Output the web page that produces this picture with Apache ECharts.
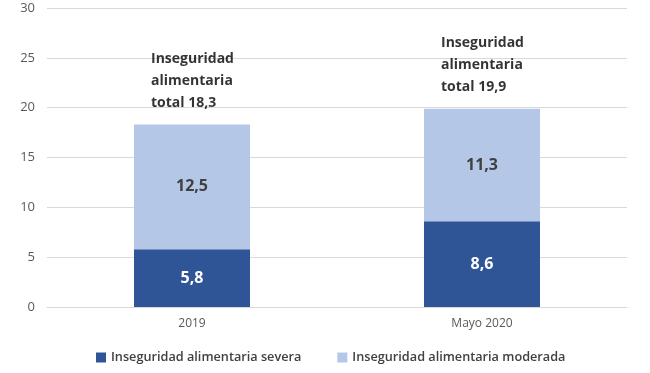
<!DOCTYPE html>
<html><head><meta charset="utf-8">
<script src="https://cdn.jsdelivr.net/npm/echarts@6/dist/echarts.min.js"></script>
<style>html,body{margin:0;padding:0;background:#fff}#c{width:650px;height:373px}</style>
</head><body><div id="c"></div>
<script>
const categories = ['2019', 'Mayo 2020'];
const severa = [5.8, 8.6];
const moderada = [12.5, 11.3];
const totals = [18.3, 19.9];
const seriesNames = ['Inseguridad alimentaria severa', 'Inseguridad alimentaria moderada'];
const yTicks = { min: 0, max: 30, interval: 5 };

const fmt = v => v.toFixed(1).replace('.', ',');
const chart = echarts.init(document.getElementById('c'), null, { renderer: 'canvas' });
const font = '"Open Sans", "Noto Sans", sans-serif';
chart.setOption({
  animation: false,
  textStyle: { fontFamily: font },
  grid: { left: 47, right: 23, top: 8, bottom: 66 },
  legend: {
    data: seriesNames,
    bottom: 4, left: 91, itemWidth: 10, itemHeight: 10, itemGap: 36,
    icon: 'rect',
    textStyle: { fontSize: 12.7, fontWeight: 600, color: '#404040', fontFamily: font }
  },
  xAxis: {
    type: 'category', data: categories,
    axisLine: { show: true, lineStyle: { color: '#d9d9d9' } },
    axisTick: { show: false },
    axisLabel: { fontSize: 12, color: '#595959', margin: 11 }
  },
  yAxis: {
    type: 'value', min: yTicks.min, max: yTicks.max, interval: yTicks.interval,
    axisLine: { show: false }, axisTick: { show: false },
    splitLine: { lineStyle: { color: '#d9d9d9', width: 1 } },
    axisLabel: { fontSize: 13, color: '#595959', margin: 12 }
  },
  series: [
    {
      name: seriesNames[0], type: 'bar', stack: 'a', barWidth: '40%',
      itemStyle: { color: '#2F5597' },
      data: severa,
      label: { show: true, position: 'inside', color: '#fff', fontSize: 16, fontWeight: 'bold',
        formatter: p => fmt(p.value) }
    },
    {
      name: seriesNames[1], type: 'bar', stack: 'a', barWidth: '40%',
      itemStyle: { color: '#B4C7E7' },
      data: moderada,
      label: { show: true, position: 'inside', color: '#404040', fontSize: 16, fontWeight: 'bold',
        formatter: p => fmt(p.value) }
    },
    {
      name: 'total', type: 'scatter', symbolSize: 0, silent: true,
      data: totals,
      label: {
        show: true, position: 'top', align: 'left', offset: [-41, -6],
        formatter: p => 'Inseguridad\nalimentaria\ntotal ' + fmt(p.value),
        fontSize: 14, fontWeight: 'bold', color: '#000', lineHeight: 22
      }
    }
  ]
});
</script></body></html>
